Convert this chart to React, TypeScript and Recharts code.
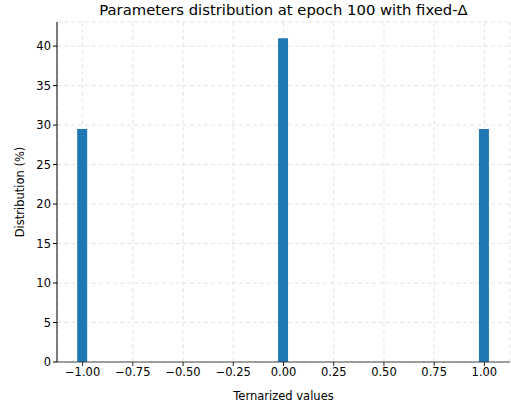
import { BarChart, Bar, XAxis, YAxis, CartesianGrid } from 'recharts';

const binCenters = [-1, 0, 1];
const distribution = [29.5, 41.0, 29.5];
const xTicks = [-1, -0.75, -0.5, -0.25, 0, 0.25, 0.5, 0.75, 1];
const yTicks = [0, 5, 10, 15, 20, 25, 30, 35, 40];

const data = binCenters.map((x, i) => ({ x, pct: distribution[i] }));

const FONT = '"DejaVu Sans", sans-serif';

const fmtX = (v: number) => v.toFixed(2).replace('-', '\u2212');

const App = () => {
  return (
    <div style={{ position: 'absolute', left: 0, top: 0, width: 511, height: 404, background: '#fff', fontFamily: FONT }}>
      <div
        style={{
          position: 'absolute',
          left: 57,
          width: 453,
          top: 1,
          textAlign: 'center',
          fontSize: 14.8,
          color: '#000',
        }}
      >
        Parameters distribution at epoch 100 with fixed-Δ
      </div>
      <BarChart
        width={511}
        height={404}
        data={data}
        margin={{ top: 22, right: 1, bottom: 0, left: 0 }}
        style={{ fontFamily: FONT }}
      >
        <Bar dataKey="pct" fill="#1f77b4" barSize={10} isAnimationActive={false} />
        <CartesianGrid stroke="#d8d8d8" strokeDasharray="4 3" strokeOpacity={0.7} />
        <XAxis
          dataKey="x"
          type="number"
          domain={[-1.1275, 1.1275]}
          ticks={xTicks}
          tickFormatter={fmtX}
          allowDataOverflow
          height={42}
          stroke="#444"
          tickLine={{ stroke: '#222' }}
          tickSize={4}
          tick={{ fill: '#000', fontSize: 11.5 }}
          label={{ value: 'Ternarized values', position: 'insideBottom', offset: 4, fill: '#000', fontSize: 11.5 }}
        />
        <XAxis xAxisId="top" orientation="top" type="number" domain={[-1.1275, 1.1275]} tick={false} tickLine={false} height={0} stroke="#808080" strokeWidth={1.5} />
        <YAxis
          type="number"
          domain={[0, 43.05]}
          ticks={yTicks}
          allowDataOverflow
          width={57}
          stroke="#000"
          tickLine={{ stroke: '#000' }}
          tickSize={4}
          tick={{ fill: '#000', fontSize: 11.5 }}
          label={{ value: 'Distribution (%)', angle: -90, position: 'insideLeft', offset: 20, fill: '#000', fontSize: 11.5, style: { textAnchor: 'middle' } }}
        />
        <YAxis yAxisId="right" orientation="right" tick={false} tickLine={false} width={0} stroke="#cccccc" />
      </BarChart>
    </div>
  );
};

export default App;
